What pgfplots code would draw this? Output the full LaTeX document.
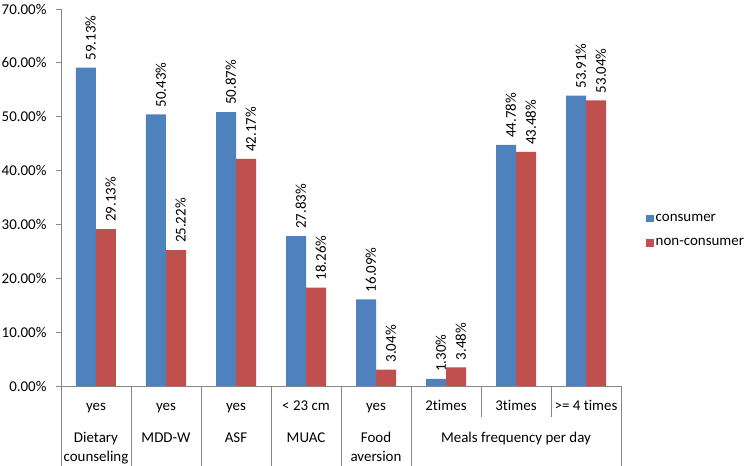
\documentclass[border=0pt]{standalone}
\usepackage{fontspec}
\setmainfont{Carlito}[Ligatures=NoCommon]
\usepackage{pgfplots}
\pgfplotsset{compat=1.18}
\definecolor{cons}{HTML}{4F81BD}
\definecolor{noncons}{HTML}{C0504D}
\definecolor{axgray}{HTML}{868686}
\newcommand{\lf}{\fontsize{15}{18}\selectfont}
\begin{document}
\begin{tikzpicture}
\begin{axis}[
  scale only axis, width=560bp, height=377bp,
  ymin=0, ymax=70, xmin=-0.5, xmax=7.5,
  ybar=0pt, bar width=20bp,
  axis x line=bottom, axis y line=left,
  axis line style={axgray, line width=0.8pt, -},
  xtick={0,...,7}, xticklabels={}, major x tick style={draw=none},
  ytick={0,10,...,70}, tick align=outside, major tick length=5bp,
  ytick style={axgray, line width=0.8pt},
  /pgf/number format/assume math mode=true,
  yticklabel={\pgfmathprintnumber[fixed,fixed zerofill,precision=2]{\tick}\%},
  yticklabel style={font=\lf, text=black, xshift=-6bp},
  point meta=explicit symbolic,
  nodes near coords={\pgfplotspointmeta\%},
  nodes near coords style={font=\lf, rotate=90, anchor=west, text=black,
    inner xsep=7bp, inner ysep=0pt, text height=19.5bp, text depth=0pt},
  clip=false,
  legend cell align=left,
  legend style={draw=none, fill=none, at={(1,0.412)}, anchor=west, xshift=25bp,
    font=\lf, row sep=12bp, inner sep=0pt, nodes={inner sep=2bp}},
]
\addplot[fill=cons, draw=none, legend image code/.code={\fill[cons] (0bp,-3.75bp) rectangle (7.5bp,3.75bp);}]
  coordinates {(0,59.13) [59.13] (1,50.43) [50.43] (2,50.87) [50.87] (3,27.83) [27.83]
               (4,16.09) [16.09] (5,1.30) [1.30] (6,44.78) [44.78] (7,53.91) [53.91]};
\addplot[fill=noncons, draw=none, legend image code/.code={\fill[noncons] (0bp,-3.75bp) rectangle (7.5bp,3.75bp);}]
  coordinates {(0,29.13) [29.13] (1,25.22) [25.22] (2,42.17) [42.17] (3,18.26) [18.26]
               (4,3.04) [3.04] (5,3.48) [3.48] (6,43.48) [43.48] (7,53.04) [53.04]};
\legend{consumer,non-consumer}
% category table below the axis
\draw[axgray, line width=0.8pt] (axis cs:-0.5,0) -- ([yshift=-80bp]axis cs:-0.5,0);
\draw[axgray, line width=0.8pt] (axis cs:0.5,0) -- ([yshift=-80bp]axis cs:0.5,0);
\draw[axgray, line width=0.8pt] (axis cs:1.5,0) -- ([yshift=-80bp]axis cs:1.5,0);
\draw[axgray, line width=0.8pt] (axis cs:2.5,0) -- ([yshift=-80bp]axis cs:2.5,0);
\draw[axgray, line width=0.8pt] (axis cs:3.5,0) -- ([yshift=-80bp]axis cs:3.5,0);
\draw[axgray, line width=0.8pt] (axis cs:4.5,0) -- ([yshift=-80bp]axis cs:4.5,0);
\draw[axgray, line width=0.8pt] (axis cs:5.5,0) -- ([yshift=-31bp]axis cs:5.5,0);
\draw[axgray, line width=0.8pt] (axis cs:6.5,0) -- ([yshift=-31bp]axis cs:6.5,0);
\draw[axgray, line width=0.8pt] (axis cs:7.5,0) -- ([yshift=-80bp]axis cs:7.5,0);
\node[font=\lf, anchor=base, yshift=-24.5bp] at (axis cs:0,0) {yes};
\node[font=\lf, anchor=base, yshift=-24.5bp] at (axis cs:1,0) {yes};
\node[font=\lf, anchor=base, yshift=-24.5bp] at (axis cs:2,0) {yes};
\node[font=\lf, anchor=base, yshift=-24.5bp] at (axis cs:3,0) {< 23 cm};
\node[font=\lf, anchor=base, yshift=-24.5bp] at (axis cs:4,0) {yes};
\node[font=\lf, anchor=base, yshift=-24.5bp] at (axis cs:5,0) {2times};
\node[font=\lf, anchor=base, yshift=-24.5bp] at (axis cs:6,0) {3times};
\node[font=\lf, anchor=base, yshift=-24.5bp] at (axis cs:7,0) {>= 4 times};
\node[font=\lf, anchor=base, yshift=-56.5bp] at (axis cs:0,0) {Dietary};
\node[font=\lf, anchor=base, yshift=-75bp] at (axis cs:0,0) {counseling};
\node[font=\lf, anchor=base, yshift=-56.5bp] at (axis cs:1,0) {MDD-W};
\node[font=\lf, anchor=base, yshift=-56.5bp] at (axis cs:2,0) {ASF};
\node[font=\lf, anchor=base, yshift=-56.5bp] at (axis cs:3,0) {MUAC};
\node[font=\lf, anchor=base, yshift=-56.5bp] at (axis cs:4,0) {Food};
\node[font=\lf, anchor=base, yshift=-75bp] at (axis cs:4,0) {aversion};
\node[font=\lf, anchor=base, yshift=-56.5bp] at (axis cs:6,0) {Meals frequency per day};
\end{axis}
\pgfresetboundingbox
\path[use as bounding box] (-61bp,-80bp) rectangle (689bp,386bp);
\end{tikzpicture}
\end{document}
